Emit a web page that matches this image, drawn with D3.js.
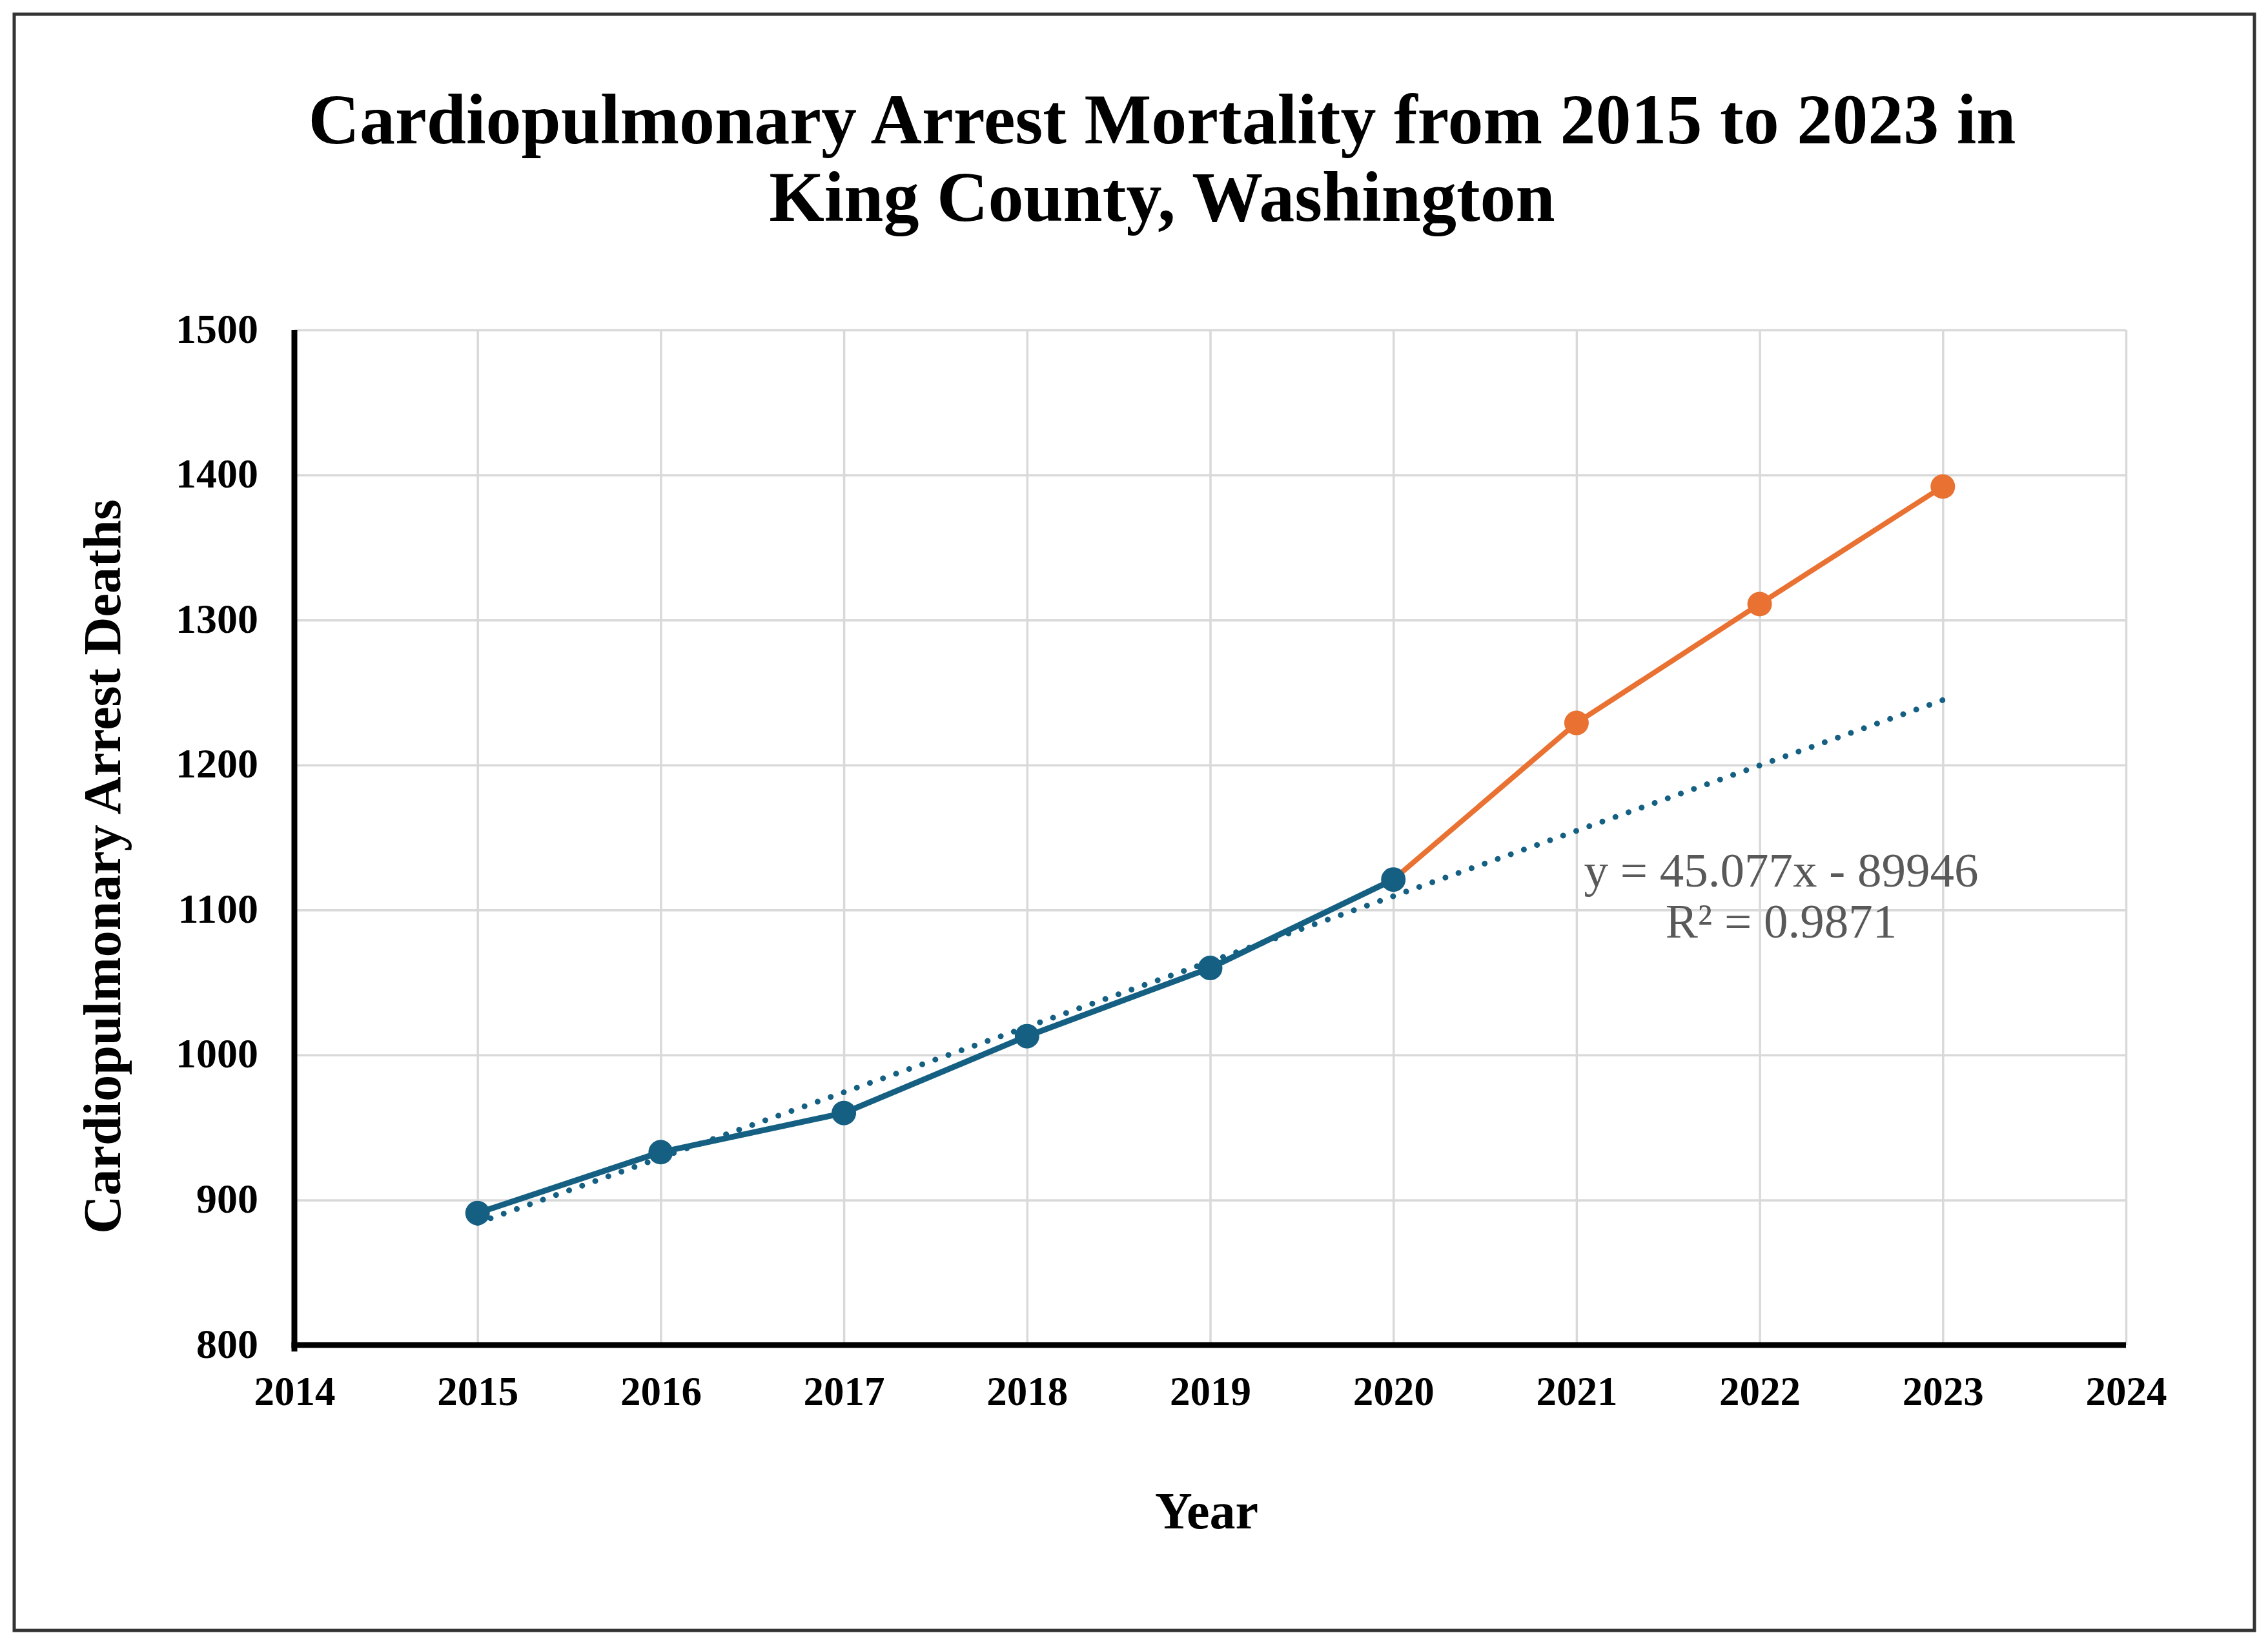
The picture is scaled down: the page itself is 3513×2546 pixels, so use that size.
<!DOCTYPE html>
<html>
<head>
<meta charset="utf-8">
<script src="https://cdn.jsdelivr.net/npm/d3@7"></script>
<style>
  html, body { margin: 0; padding: 0; background: #ffffff; }
  svg { display: block; }
</style>
</head>
<body>
<svg id="chart" width="3513" height="2546"></svg>
<script>
// ---- Data ----
const years = [2015, 2016, 2017, 2018, 2019, 2020, 2021, 2022, 2023];
const deaths = [891, 933, 960, 1013, 1060, 1121, 1229, 1311, 1392];
const observedYears = [2015, 2016, 2017, 2018, 2019, 2020];
const projectedYears = [2020, 2021, 2022, 2023];
const trendSlope = 45.077;
const trendIntercept = -89946;
const trendYears = [2015, 2023];
const xTicks = [2014, 2015, 2016, 2017, 2018, 2019, 2020, 2021, 2022, 2023, 2024];
const yTicks = [800, 900, 1000, 1100, 1200, 1300, 1400, 1500];
const titleLines = ["Cardiopulmonary Arrest Mortality from 2015 to 2023 in", "King County, Washington"];
const xTitle = "Year";
const yTitle = "Cardiopulmonary Arrest Deaths";
const eqLine1 = "y = 45.077x - 89946";
const eqR2 = "0.9871";

(function () {
// ---- Layout ----
const W = 3513, H = 2546;
const pLeft = 456, pRight = 3293, pTop = 511, pBottom = 2083;
const serif = "'Liberation Serif', 'Times New Roman', Times, serif";
const blue = "#156082", orange = "#E97132", grid = "#d9d9d9";

const svg = d3.select("#chart");
svg.append("rect").attr("x", 0).attr("y", 0).attr("width", W).attr("height", H).attr("fill", "#fff");
// frame
svg.append("rect").attr("x", 22).attr("y", 22).attr("width", 3470).attr("height", 2503)
  .attr("fill", "none").attr("stroke", "#333").attr("stroke-width", 5);

const x = d3.scaleLinear().domain([2014, 2024]).range([pLeft, pRight]);
const y = d3.scaleLinear().domain([800, 1500]).range([pBottom, pTop]);
const lookup = new Map(years.map((yr, i) => [yr, deaths[i]]));

// gridlines
svg.append("g").attr("class", "hgrid")
  .attr("transform", `translate(${pLeft},0)`)
  .call(d3.axisLeft(y).tickValues(yTicks.filter(d => d > 800)).tickSize(-(pRight - pLeft)).tickFormat(""))
  .call(g => g.select(".domain").remove())
  .call(g => g.selectAll("line").attr("stroke", grid).attr("stroke-width", 3.5));
svg.append("g").attr("class", "vgrid")
  .attr("transform", `translate(0,${pBottom})`)
  .call(d3.axisBottom(x).tickValues(xTicks.filter(d => d > 2014)).tickSize(-(pBottom - pTop)).tickFormat(""))
  .call(g => g.select(".domain").remove())
  .call(g => g.selectAll("line").attr("stroke", grid).attr("stroke-width", 3.5));

// axes
const xAxis = svg.append("g").attr("transform", `translate(0,${pBottom})`)
  .call(d3.axisBottom(x).tickValues(xTicks).tickFormat(d3.format("d")).tickSize(0).tickPadding(0));
xAxis.select(".domain").remove();
xAxis.selectAll("text").attr("y", 93).attr("dy", 0)
  .attr("font-family", serif).attr("font-weight", "bold").attr("font-size", 63).attr("fill", "#000");

const yAxis = svg.append("g").attr("transform", `translate(${pLeft},0)`)
  .call(d3.axisLeft(y).tickValues(yTicks).tickFormat(d3.format("d")).tickSize(0).tickPadding(0));
yAxis.select(".domain").remove();
yAxis.selectAll("text").attr("x", -56).attr("dy", 19)
  .attr("font-family", serif).attr("font-weight", "bold").attr("font-size", 64).attr("fill", "#000");

svg.append("line").attr("x1", pLeft).attr("x2", pLeft).attr("y1", pTop).attr("y2", pBottom + 10)
  .attr("stroke", "#000").attr("stroke-width", 9);
svg.append("line").attr("x1", pLeft - 4.5).attr("x2", pRight).attr("y1", pBottom).attr("y2", pBottom)
  .attr("stroke", "#000").attr("stroke-width", 9);

// lines
const line = d3.line().x(d => x(d)).y(d => y(lookup.get(d)));
svg.append("path").datum(observedYears).attr("d", line)
  .attr("fill", "none").attr("stroke", blue).attr("stroke-width", 9).attr("stroke-linejoin", "round");
svg.append("path").datum(projectedYears).attr("d", line)
  .attr("fill", "none").attr("stroke", orange).attr("stroke-width", 8).attr("stroke-linejoin", "round");

// trendline
const trendLine = d3.line().x(d => x(d)).y(d => y(trendSlope * d + trendIntercept));
svg.append("path").datum(trendYears).attr("d", trendLine)
  .attr("fill", "none").attr("stroke", blue).attr("stroke-width", 9)
  .attr("stroke-linecap", "round").attr("stroke-dasharray", "0.01 21.5");

// markers
svg.append("g").selectAll("circle").data(years).join("circle")
  .attr("cx", d => x(d)).attr("cy", d => y(lookup.get(d))).attr("r", 19)
  .attr("fill", d => d <= 2020 ? blue : orange);

// equation (single text element, two lines)
const eq = svg.append("text").attr("font-family", serif).attr("font-size", 75).attr("fill", "#595959")
  .attr("text-anchor", "middle");
eq.append("tspan").attr("x", 2759).attr("y", 1373).text(eqLine1);
eq.append("tspan").attr("x", 2759).attr("y", 1452).text("R\u00B2 = " + eqR2);
})();

(function () {
const serif = "'Liberation Serif', 'Times New Roman', Times, serif";
const svg = d3.select("#chart");
// titles
svg.append("text").attr("font-family", serif).attr("font-weight", "bold").attr("font-size", 110)
  .attr("text-anchor", "middle").attr("fill", "#000")
  .selectAll("tspan").data(titleLines).join("tspan")
  .attr("x", 1800).attr("y", (d, i) => 222 + i * 120).text(d => d);

svg.append("text").attr("font-family", serif).attr("font-weight", "bold").attr("font-size", 80)
  .attr("text-anchor", "middle").attr("x", 1869).attr("y", 2367).attr("fill", "#000").text(xTitle);

svg.append("text").attr("font-family", serif).attr("font-weight", "bold").attr("font-size", 82)
  .attr("text-anchor", "middle").attr("fill", "#000")
  .attr("transform", "translate(186,1342) rotate(-90)").text(yTitle);
})();
</script>
</body>
</html>
